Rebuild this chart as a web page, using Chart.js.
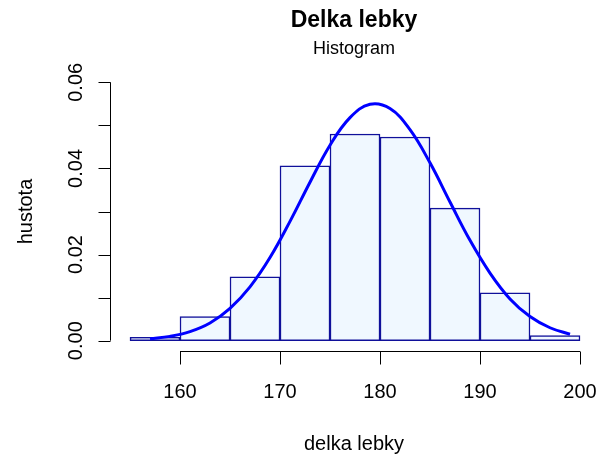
<!DOCTYPE html>
<html>
<head>
<meta charset="utf-8">
<script src="https://cdn.jsdelivr.net/npm/chart.js@4/dist/chart.umd.min.js"></script>
<style>
  html, body { margin: 0; padding: 0; background: #fff; }
  canvas { display: block; }
</style>
</head>
<body>
<canvas id="hist" width="602" height="457"></canvas>
<script>
// histogram bins (midpoints) and densities
const binMids = [157.5, 162.5, 167.5, 172.5, 177.5, 182.5, 187.5, 192.5, 197.5];
const density = [0.0008, 0.0056, 0.0148, 0.0406, 0.0480, 0.0473, 0.0308, 0.0111, 0.0012];

// fitted density curve
const curveX = [157, 159, 161, 163, 165, 167, 169, 171, 173, 175, 177, 179, 181, 183, 185, 187, 189, 191, 193, 195, 197, 199];
const curveY = [0.00045, 0.0010, 0.0021, 0.0041, 0.0075, 0.0125, 0.0193, 0.0277, 0.0368, 0.0454, 0.0518, 0.0549, 0.0539, 0.0490, 0.0413, 0.0322, 0.0233, 0.0157, 0.0097, 0.0056, 0.0030, 0.0015];

const xTicks = [160, 170, 180, 190, 200];
const yTicks = [0, 0.01, 0.02, 0.03, 0.04, 0.05, 0.06];
const yLabels = ['0.00', '', '0.02', '', '0.04', '', '0.06'];

const FONT = '"Liberation Sans", Arial, Helvetica, sans-serif';

const rAxes = {
  id: 'rAxes',
  afterDraw(chart) {
    const ctx = chart.ctx;
    const xs = chart.scales.x, ys = chart.scales.y;
    const area = chart.chartArea;
    ctx.save();
    ctx.strokeStyle = '#000';
    ctx.fillStyle = '#000';
    ctx.lineWidth = 1;

    // x axis
    const xa = Math.round(area.bottom) + 0.5;
    ctx.beginPath();
    ctx.moveTo(xs.getPixelForValue(xTicks[0]), xa);
    ctx.lineTo(xs.getPixelForValue(xTicks[xTicks.length - 1]), xa);
    xTicks.forEach(t => {
      const px = Math.round(xs.getPixelForValue(t)) + 0.5;
      ctx.moveTo(px, xa);
      ctx.lineTo(px, xa + 13);
    });
    ctx.stroke();
    ctx.font = '20px ' + FONT;
    ctx.textAlign = 'center';
    ctx.textBaseline = 'alphabetic';
    xTicks.forEach(t => ctx.fillText(String(t), xs.getPixelForValue(t), 398));

    // y axis
    const ya = Math.round(area.left) + 0.5;
    ctx.beginPath();
    ctx.moveTo(ya, ys.getPixelForValue(yTicks[0]));
    ctx.lineTo(ya, ys.getPixelForValue(yTicks[yTicks.length - 1]));
    yTicks.forEach(t => {
      const py = Math.round(ys.getPixelForValue(t)) + 0.5;
      ctx.moveTo(ya, py);
      ctx.lineTo(ya - 12, py);
    });
    ctx.stroke();
    yTicks.forEach((t, i) => {
      if (!yLabels[i]) return;
      ctx.save();
      ctx.translate(82, ys.getPixelForValue(t));
      ctx.rotate(-Math.PI / 2);
      ctx.fillText(yLabels[i], 0, 0);
      ctx.restore();
    });

    // axis titles
    const cx = (area.left + area.right) / 2;
    const cy = (area.top + area.bottom) / 2;
    ctx.fillText('delka lebky', cx, 450);
    ctx.save();
    ctx.translate(32, cy);
    ctx.rotate(-Math.PI / 2);
    ctx.fillText('hustota', 0, 0);
    ctx.restore();

    // main title and subtitle
    ctx.font = 'bold 23px ' + FONT;
    ctx.fillText('Delka lebky', cx, 27);
    ctx.font = '18px ' + FONT;
    ctx.fillText('Histogram', cx, 54);
    ctx.restore();
  }
};

new Chart('hist', {
  type: 'bar',
  data: {
    datasets: [{
      type: 'line',
      data: curveX.map((x, i) => ({ x: x, y: curveY[i] })),
      borderColor: '#0000FF',
      borderWidth: 3,
      pointRadius: 0,
      tension: 0.4,
      fill: false,
      order: 0
    }, {
      type: 'bar',
      data: binMids.map((x, i) => ({ x: x, y: density[i] })),
      backgroundColor: '#F0F8FF',
      borderColor: '#10109A',
      borderWidth: 1.5,
      borderSkipped: false,
      barPercentage: 1,
      categoryPercentage: 1,
      order: 1
    }]
  },
  options: {
    responsive: false,
    animation: false,
    layout: { padding: { left: 110, right: 4, top: 72, bottom: 106 } },
    plugins: { legend: { display: false }, tooltip: { enabled: false }, title: { display: false } },
    scales: {
      x: { type: 'linear', min: 153, max: 201.8, offset: false, display: false },
      y: { type: 'linear', min: -0.0024, max: 0.0624, display: false }
    }
  },
  plugins: [rAxes]
});
</script>
</body>
</html>
